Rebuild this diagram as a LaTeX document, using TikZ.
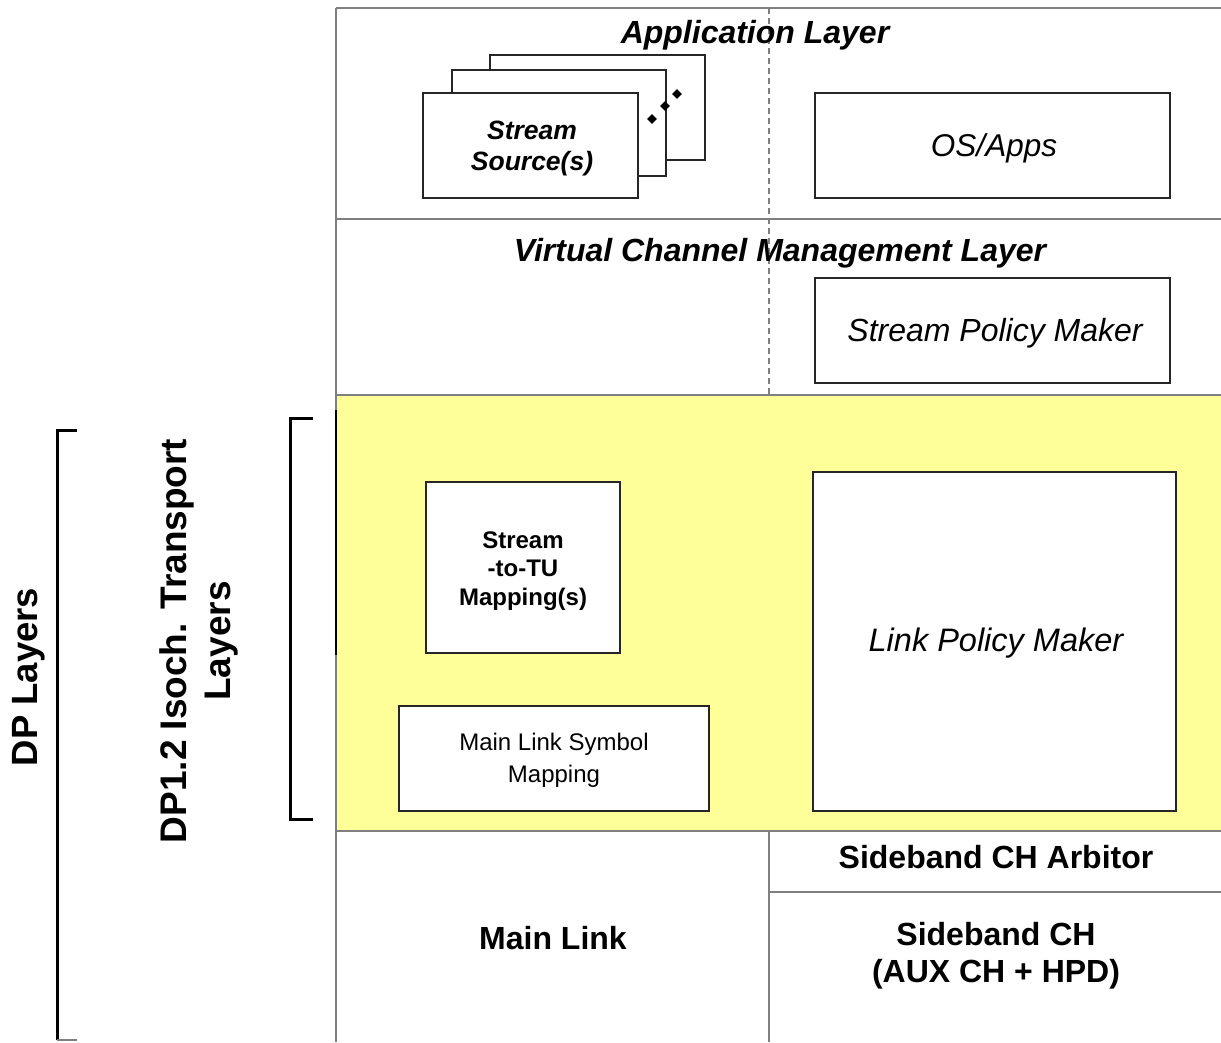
\documentclass[tikz,border=0pt]{standalone}
\usepackage{fontspec}
\setmainfont{Liberation Sans}
\usetikzlibrary{shapes.geometric}
\definecolor{layeryellow}{HTML}{FFFF99}
\definecolor{rulegray}{HTML}{7F7F7F}
\tikzset{
  frame/.style={draw=rulegray, line width=1.6pt},
  boxstyle/.style={draw=black!85, line width=1.3pt, fill=white, inner sep=0pt, align=center},
  bracketline/.style={draw=black, line width=3pt},
  dotmark/.style={diamond, fill=black, inner sep=0pt, minimum size=10pt},
  txt/.style={inner sep=0pt, align=center},
}
\begin{document}
\begin{tikzpicture}[x=1pt,y=-1pt]
\useasboundingbox (0,0) rectangle (1221,1042);
% yellow transport band
\fill[layeryellow] (336,395) rectangle (1221,831);
% frame lines
\draw[frame] (336,8) -- (1221,8);
\draw[frame] (336,8) -- (336,1042);
\draw[frame] (336,219) -- (1221,219);
\draw[frame] (336,395) -- (1221,395);
\draw[frame] (336,831) -- (1221,831);
\draw[frame, dash pattern=on 6pt off 4pt, line width=1.2pt] (769,8) -- (769,395);
\draw[frame] (769,831) -- (769,1042);
\draw[frame] (769,892) -- (1221,892);
\draw[draw=black, line width=2.4pt] (336,410) -- (336,655);
% layer titles
\node[txt, font=\fontsize{32}{38}\selectfont\bfseries\itshape] (app) at (755,35) {Application Layer};
\node[txt, font=\fontsize{32}{38}\selectfont\bfseries\itshape] (vcm) at (780,253) {Virtual Channel Management Layer};
% stream source stack
\node[boxstyle, minimum width=215pt, minimum height=105pt] (src3) at (597.5,107.5) {};
\node[boxstyle, minimum width=214pt, minimum height=106pt] (src2) at (559,123) {};
\node[boxstyle, minimum width=215pt, minimum height=105pt] (src1) at (530.5,145.5) {};
\node[txt, font=\fontsize{26.5}{31}\selectfont\bfseries\itshape] (srctxt) at (532,148) {Stream\\Source(s)};
\node[dotmark] (d1) at (652,119) {};
\node[dotmark] (d2) at (665,106) {};
\node[dotmark] (d3) at (677,94) {};
% right column boxes
\node[boxstyle, minimum width=355pt, minimum height=105pt] (os) at (992.5,145.5) {};
\node[txt, font=\fontsize{31.5}{37}\selectfont\itshape] (ostxt) at (994,148) {OS/Apps};
\node[boxstyle, minimum width=355pt, minimum height=105pt] (spm) at (992.5,330.5) {};
\node[txt, font=\fontsize{32}{37}\selectfont\itshape] (spmtxt) at (995,333) {Stream Policy Maker};
\node[boxstyle, minimum width=363pt, minimum height=339pt] (lpm) at (994.5,641.5) {};
\node[txt, font=\fontsize{32.5}{37}\selectfont\itshape] (lpmtxt) at (996,643) {Link Policy Maker};
% transport boxes
\node[boxstyle, minimum width=194pt, minimum height=171pt] (tu) at (523,567.5) {};
\node[txt, font=\fontsize{24}{28.5}\selectfont\bfseries] (tutxt) at (523,571) {Stream\\-to-TU\\Mapping(s)};
\node[boxstyle, minimum width=310pt, minimum height=105pt] (sym) at (554,758.5) {};
\node[txt, font=\fontsize{24}{32}\selectfont] (symtxt) at (554,760) {Main Link Symbol\\Mapping};
% bottom labels
\node[txt, font=\fontsize{32}{37}\selectfont\bfseries] (arb) at (996,857) {Sideband CH Arbitor};
\node[txt, font=\fontsize{32}{37}\selectfont\bfseries] (ml) at (553,938) {Main Link};
\node[txt, font=\fontsize{32}{37}\selectfont\bfseries] (sb) at (996,956) {Sideband CH\\(AUX CH + HPD)};
% brackets
\draw[bracketline] (77,430) -- (57,430) -- (57,1040);
\draw[draw=rulegray, line width=1.2pt] (57,1040) -- (77,1040);
\draw[bracketline] (313,418) -- (290,418) -- (290,819) -- (313,819);
\node[txt, rotate=90, font=\fontsize{36.5}{44}\selectfont\bfseries] (dpl) at (29,677) {DP Layers};
\node[txt, rotate=90, font=\fontsize{37}{44}\selectfont\bfseries] (iso) at (199,641) {DP1.2 Isoch. Transport\\Layers};
\end{tikzpicture}
\end{document}
